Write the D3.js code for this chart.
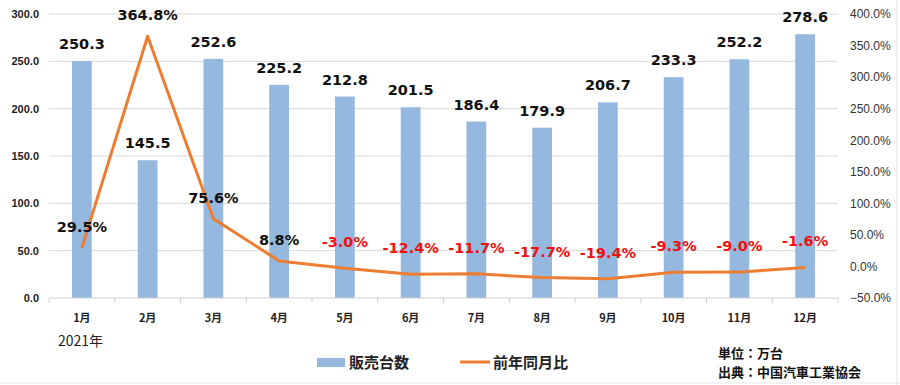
<!DOCTYPE html>
<html>
<head>
<meta charset="utf-8">
<script src="https://cdn.jsdelivr.net/npm/d3@7"></script>
<style>
  body { margin: 0; background: #fff; }
  svg { display: block; font-family: "Noto Sans CJK JP", "Noto Sans", sans-serif; }
</style>
</head>
<body>
<svg id="chart" width="900" height="385"></svg>
<script>
// chart data
const months = ['1月', '2月', '3月', '4月', '5月', '6月', '7月', '8月', '9月', '10月', '11月', '12月']
const sales = [250.3, 145.5, 252.6, 225.2, 212.8, 201.5, 186.4, 179.9, 206.7, 233.3, 252.2, 278.6]
const yoy = [29.5, 364.8, 75.6, 8.8, -3.0, -12.4, -11.7, -17.7, -19.4, -9.3, -9.0, -1.6]
const leftTicks = [0, 50, 100, 150, 200, 250, 300]
const rightTicks = [-50, 0, 50, 100, 150, 200, 250, 300, 350, 400]

const svg = d3.select('#chart')
const plotLeft = 49
const plotRight = 838
const plotTop = 14
const plotBottom = 298

const x = d3.scaleBand().domain(months).range([plotLeft, plotRight]).paddingInner(0.7).paddingOuter(0.35)
const xc = d => x(d) + x.bandwidth() / 2
const y = d3.scaleLinear().domain([0, 300]).range([plotBottom, plotTop])
const y2 = d3.scaleLinear().domain([-50, 400]).range([plotBottom, plotTop])

// faint frame lines (sheet cells)
svg.append('line').attr('x1', 897).attr('x2', 897).attr('y1', 0).attr('y2', 385)
  .attr('stroke', '#e6e6e6')
svg.append('line').attr('x1', 0).attr('x2', 900).attr('y1', 383).attr('y2', 383)
  .attr('stroke', '#e6e6e6')

// gridlines
svg.append('g')
  .selectAll('line')
  .data(leftTicks.slice(1))
  .join('line')
  .attr('x1', plotLeft)
  .attr('x2', plotRight)
  .attr('y1', d => y(d))
  .attr('y2', d => y(d))
  .attr('stroke', '#d9d9d9')
  .attr('stroke-width', 1)

// left axis
const leftAxis = svg.append('g')
  .attr('transform', `translate(${plotLeft},0)`)
  .call(d3.axisLeft(y).tickValues(leftTicks).tickFormat(d3.format('.1f')).tickSize(0).tickPadding(10))
leftAxis.select('.domain').remove()
leftAxis.selectAll('text')
  .attr('font-family', 'Liberation Sans, Arial, sans-serif')
  .attr('font-size', '11px')
  .attr('font-weight', 'bold')
  .attr('fill', '#222')

// right axis
const rightAxis = svg.append('g')
  .attr('transform', `translate(${plotRight},0)`)
  .call(d3.axisRight(y2).tickValues(rightTicks).tickFormat(d => d3.format('.1f')(d) + '%').tickSize(0).tickPadding(12))
rightAxis.select('.domain').remove()
rightAxis.selectAll('text')
  .attr('font-family', 'Liberation Sans, Arial, sans-serif')
  .attr('font-size', '12px')
  .attr('fill', '#333')

// bars
svg.append('g')
  .selectAll('rect')
  .data(sales)
  .join('rect')
  .attr('x', (d, i) => x(months[i]))
  .attr('y', d => y(d))
  .attr('width', x.bandwidth())
  .attr('height', d => y(0) - y(d))
  .attr('fill', '#95b8de')

// x axis line with category ticks
svg.append('line')
  .attr('x1', plotLeft).attr('x2', plotRight).attr('y1', plotBottom).attr('y2', plotBottom)
  .attr('stroke', '#d0d0d0')
svg.append('g')
  .selectAll('line')
  .data(d3.range(months.length + 1))
  .join('line')
  .attr('x1', i => plotLeft + i * (plotRight - plotLeft) / months.length)
  .attr('x2', i => plotLeft + i * (plotRight - plotLeft) / months.length)
  .attr('y1', plotBottom)
  .attr('y2', plotBottom + 5)
  .attr('stroke', '#d0d0d0')

svg.append('g')
  .selectAll('text')
  .data(months)
  .join('text')
  .attr('x', d => xc(d))
  .attr('y', 322)
  .attr('text-anchor', 'middle')
  .attr('font-size', '11px')
  .attr('font-weight', 'bold')
  .attr('fill', '#222')
  .text(d => d)

svg.append('text')
  .attr('x', 58)
  .attr('y', 346)
  .attr('font-size', '14px')
  .attr('fill', '#222')
  .text('2021年')

// yoy line
const line = d3.line()
  .x((d, i) => xc(months[i]))
  .y(d => y2(d))
svg.append('path')
  .datum(yoy)
  .attr('d', line)
  .attr('fill', 'none')
  .attr('stroke', '#ed7d31')
  .attr('stroke-width', 3)
  .attr('stroke-linejoin', 'round')

// bar labels
svg.append('g')
  .selectAll('text')
  .data(sales)
  .join('text')
  .attr('x', (d, i) => xc(months[i]))
  .attr('y', d => y(d) - 12)
  .attr('text-anchor', 'middle')
  .attr('font-family', 'DejaVu Sans, sans-serif')
  .attr('font-size', '14.5px')
  .attr('font-weight', 'bold')
  .attr('fill', '#111')
  .text(d => d.toFixed(1))

// yoy labels
svg.append('g')
  .selectAll('text')
  .data(yoy)
  .join('text')
  .attr('x', (d, i) => xc(months[i]))
  .attr('y', d => y2(d) - (d < 0 ? 21 : 16))
  .attr('text-anchor', 'middle')
  .attr('font-family', 'DejaVu Sans, sans-serif')
  .attr('font-size', '14.5px')
  .attr('font-weight', 'bold')
  .attr('fill', d => d < 0 ? '#f01010' : '#111')
  .text(d => d.toFixed(1) + '%')

// legend
const legend = svg.append('g').attr('font-size', '15px').attr('font-weight', 'bold').attr('fill', '#222')
legend.append('rect').attr('x', 317).attr('y', 358).attr('width', 28).attr('height', 9).attr('fill', '#95b8de')
legend.append('text').attr('x', 349).attr('y', 368).text('販売台数')
legend.append('line').attr('x1', 460).attr('x2', 490).attr('y1', 362).attr('y2', 362)
  .attr('stroke', '#ed7d31').attr('stroke-width', 3)
legend.append('text').attr('x', 493).attr('y', 368).text('前年同月比')

// notes
const notes = svg.append('g').attr('font-size', '13px').attr('font-weight', 'bold').attr('fill', '#111')
notes.append('text').attr('x', 718).attr('y', 358).text('単位：万台')
notes.append('text').attr('x', 718).attr('y', 377).text('出典：中国汽車工業協会')
</script>
</body>
</html>
